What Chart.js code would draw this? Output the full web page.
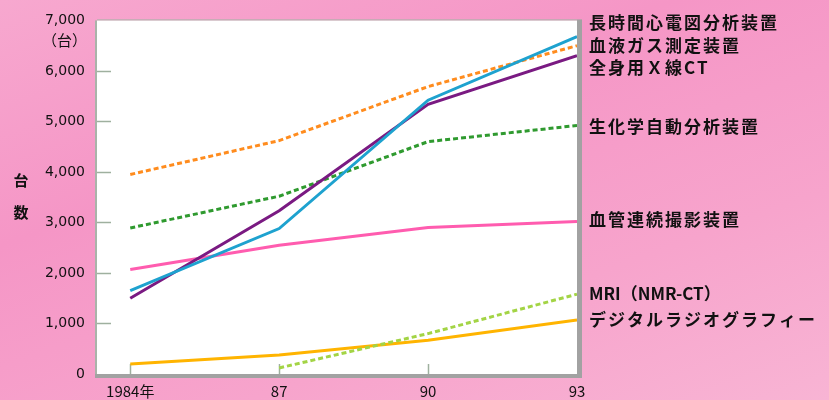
<!DOCTYPE html>
<html lang="ja">
<head>
<meta charset="utf-8">
<script src="https://cdn.jsdelivr.net/npm/chart.js@4"></script>
<style>
  html, body { margin: 0; padding: 0; }
  body { width: 829px; height: 400px; overflow: hidden;
         background: linear-gradient(160deg, #f7a8cf 0%, #f596c6 35%, #f7a4cc 70%, #f8b4d4 100%); }
  canvas { display: block; }
</style>
</head>
<body>
<canvas id="chart" width="829" height="400"></canvas>
<script>
const years = [1984, 1987, 1990, 1993];

const seriesNames = [
    '長時間心電図分析装置',
    '血液ガス測定装置',
    '全身用Ｘ線CT',
    '生化学自動分析装置',
    '血管連続撮影装置',
    'MRI（NMR-CT）',
    'デジタルラジオグラフィー'
];

const holterValues   = [1650, 2880, 5420, 6680];
const bloodGasValues = [3950, 4620, 5690, 6500];
const ctValues       = [1500, 3230, 5340, 6300];
const biochemValues  = [2890, 3520, 4600, 4920];
const angioValues    = [2070, 2550, 2900, 3020];
const mriValues      = [null, 120, 800, 1580];
const digitalValues  = [200, 375, 670, 1070];

const yTicks = [0, 1000, 2000, 3000, 4000, 5000, 6000, 7000];

// label placement on the right (pixel centres) and letter spacing
const labelY = [23, 46, 68, 127, 220, 294, 320];
const labelSpacing = [2, 2, 2, 2, 2, 0, 2];

const colors = ['#1ea2cf', '#ff8c1e', '#7a1a82', '#2f9a2f', '#ff5caf', '#a3d445', '#ffb400'];
const dashed = [false, true, false, true, false, true, false];

const allValues = [holterValues, bloodGasValues, ctValues, biochemValues, angioValues, mriValues, digitalValues];

const datasets = allValues.map((vals, i) => ({
    label: seriesNames[i],
    data: years.map((yr, j) => ({ x: yr, y: vals[j] })),
    borderColor: colors[i],
    borderWidth: 3,
    borderDash: dashed[i] ? [5, 3] : [],
    pointRadius: 0,
    tension: 0,
    spanGaps: false
}));

const frame = {
    id: 'frame',
    beforeDatasetsDraw(chart) {
        const { ctx, chartArea: a } = chart;
        ctx.save();
        ctx.fillStyle = '#ffffff';
        ctx.fillRect(a.left, a.top, a.right - a.left, a.bottom - a.top);
        // y tick marks pointing inwards
        ctx.strokeStyle = '#9fb09f';
        ctx.lineWidth = 1.5;
        const ys = chart.scales.y;
        yTicks.slice(1, -1).forEach(v => {
            const py = Math.round(ys.getPixelForValue(v)) + 0.5;
            ctx.beginPath();
            ctx.moveTo(a.left, py);
            ctx.lineTo(a.left + 14, py);
            ctx.stroke();
        });
        const xs = chart.scales.x;
        years.slice(0, -1).forEach(v => {
            const px = Math.round(xs.getPixelForValue(v)) + 0.5;
            ctx.beginPath();
            ctx.moveTo(px, a.bottom);
            ctx.lineTo(px, a.bottom - 10);
            ctx.stroke();
        });
        ctx.restore();
    },
    afterDatasetsDraw(chart) {
        const { ctx, chartArea: a } = chart;
        ctx.save();
        // axes
        ctx.fillStyle = '#a9b3a9';
        ctx.fillRect(a.left - 2, a.top, 2, a.bottom - a.top);
        ctx.fillRect(a.left, a.top - 1, a.right - a.left, 1);
        ctx.fillStyle = '#a2a2a2';
        ctx.fillRect(a.left - 2, a.bottom, a.right - a.left + 7, 4);
        ctx.fillRect(a.right, a.top - 1, 5, a.bottom - a.top + 5);

        // series labels
        ctx.fillStyle = '#111111';
        ctx.font = 'bold 17px "Noto Sans CJK JP"';
        ctx.textBaseline = 'middle';
        ctx.textAlign = 'left';
        seriesNames.forEach((name, i) => {
            ctx.letterSpacing = labelSpacing[i] + 'px';
            ctx.fillText(name, a.right + 12, labelY[i]);
        });

        // unit and axis title
        ctx.letterSpacing = '0px';
        ctx.font = '15px "Noto Sans CJK JP"';
        ctx.textAlign = 'right';
        ctx.fillText('（台）', a.left - 10, 40);
        ctx.textAlign = 'center';
        ctx.font = 'bold 15px "Noto Sans CJK JP"';
        ctx.fillText('台', 21, 180);
        ctx.fillText('数', 21, 212);
        ctx.restore();
    }
};

new Chart(document.getElementById('chart'), {
    type: 'line',
    data: { datasets },
    options: {
        responsive: false,
        animation: false,
        layout: { padding: { top: 20, right: 252, left: 0, bottom: 0 } },
        scales: {
            x: {
                type: 'linear',
                min: 1983.33,
                max: 1993,
                afterBuildTicks: scale => { scale.ticks = years.map(v => ({ value: v })); },
                afterFit: scale => { scale.height = 26; },
                grid: { display: false, drawTicks: false },
                border: { display: false },
                ticks: {
                    padding: 8,
                    color: '#111111',
                    font: { family: '"Noto Sans CJK JP"', size: 15 },
                    callback: v => v === 1984 ? '1984年' : String(v).slice(2)
                }
            },
            y: {
                min: 0,
                max: 7000,
                afterBuildTicks: scale => { scale.ticks = yTicks.map(v => ({ value: v })); },
                afterFit: scale => { scale.width = 97; },
                grid: { display: false, drawTicks: false },
                border: { display: false },
                ticks: {
                    padding: 12,
                    color: '#111111',
                    font: { family: '"DejaVu Sans"', size: 14 },
                    callback: v => v.toLocaleString('en-US')
                }
            }
        },
        plugins: {
            legend: { display: false },
            tooltip: { enabled: false }
        }
    },
    plugins: [frame]
});
</script>
</body>
</html>
